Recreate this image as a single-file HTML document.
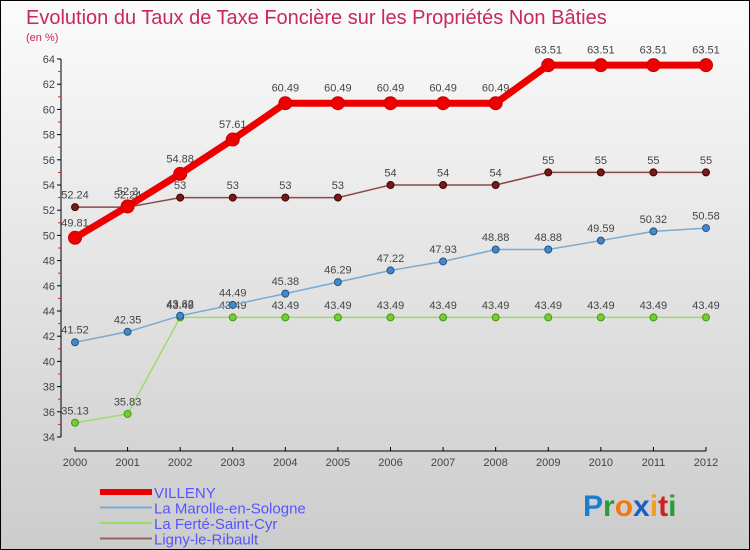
<!DOCTYPE html>
<html><head><meta charset="utf-8"><style>
body{margin:0;}
#wrap{width:750px;height:550px;position:relative;box-sizing:border-box;border:1px solid #000;background:linear-gradient(#fbfbfb,#cccccc);font-family:"Liberation Sans",sans-serif;overflow:hidden}
</style></head><body>
<div id="wrap">
<svg id="chart" width="750" height="550" style="position:absolute;left:-1px;top:-1px">
<text x="26" y="24" font-size="20" fill="#c8285a">Evolution du Taux de Taxe Foncière sur les Propriétés Non Bâties</text>
<text x="26" y="41" font-size="11" fill="#c8285a">(en %)</text>
<g id="axes"></g><g id="series"></g><g id="legend"></g>
<text x="583" y="516" font-size="30" font-weight="bold"><tspan fill="#1a7fd0">P</tspan><tspan fill="#2a9a3a">r</tspan><tspan fill="#f07a10">o</tspan><tspan fill="#1a5fc0">x</tspan><tspan fill="#f0a020">i</tspan><tspan fill="#d02020">t</tspan><tspan fill="#2a9a3a">i</tspan></text>
</svg>
</div>
<script>
const years=[2000,2001,2002,2003,2004,2005,2006,2007,2008,2009,2010,2011,2012];
const villeny=[49.81,52.3,54.88,57.61,60.49,60.49,60.49,60.49,60.49,63.51,63.51,63.51,63.51];
const marolle=[41.52,42.35,43.62,44.49,45.38,46.29,47.22,47.93,48.88,48.88,49.59,50.32,50.58];
const ferte=[35.13,35.83,43.49,43.49,43.49,43.49,43.49,43.49,43.49,43.49,43.49,43.49,43.49];
const ligny=[52.24,52.24,53,53,53,53,54,54,54,55,55,55,55];
const yTicks=[34,36,38,40,42,44,46,48,50,52,54,56,58,60,62,64];
const NS="http://www.w3.org/2000/svg";
function X(i){return 75+i*(706-75)/(years.length-1);}
function Y(v){return 437-(v-34)*(437-59)/30;}
function mk(tag,attrs,parent){const e=document.createElementNS(NS,tag);for(const k in attrs)e.setAttribute(k,attrs[k]);parent.appendChild(e);return e;}
const axes=document.getElementById('axes');
let yl=mk('line',{x1:61,y1:Y(64),x2:61,y2:Y(34),stroke:'#000'},axes);


let xl=mk('line',{x1:X(0),y1:451,x2:X(12),y2:451,stroke:'#000'},axes);


yTicks.forEach(v=>{
  mk('line',{x1:57,y1:Y(v),x2:61,y2:Y(v),stroke:'#000'},axes);
  if(v<64) mk('line',{x1:58,y1:Y(v+1),x2:61,y2:Y(v+1),stroke:'#e02020'},axes);
  const t=mk('text',{x:55,y:Y(v)+4,'font-size':11,fill:'#444','text-anchor':'end'},axes);
  t.textContent=v;
  
  
});
years.forEach((y,i)=>{
  mk('line',{x1:X(i),y1:447,x2:X(i),y2:451,stroke:'#000'},axes);
  const t=mk('text',{x:X(i),y:466,'font-size':11,fill:'#444','text-anchor':'middle'},axes);
  t.textContent=y;
  
  
});
const ser=document.getElementById('series');
function draw(data,color,w,r,fill,stroke,name){
  const g=mk('g',{},ser);
  
  
  const pl=mk('polyline',{points:data.map((v,i)=>X(i)+','+Y(v)).join(' '),fill:'none',stroke:color,'stroke-width':w,'stroke-linejoin':'round'},g);
  
  
  data.forEach((v,i)=>{
    const c=mk('circle',{cx:X(i),cy:Y(v),r:r,fill:fill,stroke:stroke},g);
    
    
    const t=mk('text',{x:X(i),y:Y(v)-(r+5),'font-size':11,fill:'#444','text-anchor':'middle'},g);
    t.textContent=v;
    
    
  });
}
draw(ferte,'#99dd66',1.5,3.5,'#77cc33','#449911','ferte');
draw(marolle,'#7aaad0',1.5,3.5,'#4488cc','#225588','marolle');
draw(ligny,'#8a4a4a',1.5,3.5,'#771a1a','#440000','ligny');
draw(villeny,'#ee0000',7,6.5,'#ee0000','#cc0000','villeny');
const lg=document.getElementById('legend');
const leg=[['VILLENY','#ee0000',6],['La Marolle-en-Sologne','#7aaad0',2],['La Ferté-Saint-Cyr','#99dd66',2],['Ligny-le-Ribault','#9a6060',2]];
leg.forEach((l,i)=>{
  const y=492+i*15.5;
  const g=mk('g',{},lg);
  
  
  mk('line',{x1:100,y1:y,x2:152,y2:y,stroke:l[1],'stroke-width':l[2]},g);
  const t=mk('text',{x:154,y:y+6,'font-size':15,fill:'#5555ff'},g);
  t.textContent=l[0];
});
</script>
</body></html>
